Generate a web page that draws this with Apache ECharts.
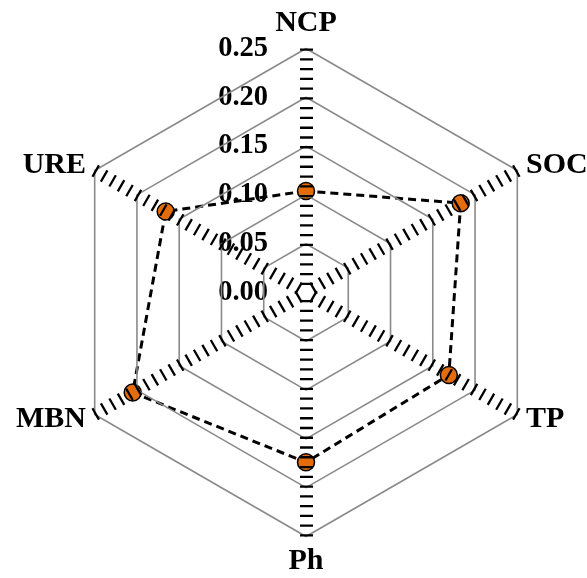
<!DOCTYPE html>
<html>
<head>
<meta charset="utf-8">
<script src="https://cdn.jsdelivr.net/npm/echarts@6/dist/echarts.min.js"></script>
<style>
  html, body { margin: 0; padding: 0; background: #fff; }
  #chart { width: 587px; height: 578px; }
</style>
</head>
<body>
<div id="chart"></div>
<script>
// Indicators listed counter-clockwise from the top (ECharts radar order)
const indicatorNames = ['NCP', 'URE', 'MBN', 'Ph', 'TP', 'SOC'];
const indicatorValues = [0.104, 0.166, 0.205, 0.174, 0.169, 0.183];
const tickLabels = ['0.00', '0.05', '0.10', '0.15', '0.20', '0.25'];
const axisMax = 0.25;
const axisStep = 0.05;

const cx = 306, cy = 292.5, R = 244;
const stripeCount = 25;               // short bars along each spoke
const period = R / stripeCount;
const bar = 2.3;

const font = 'Liberation Serif, Times New Roman, serif';

const chart = echarts.init(document.getElementById('chart'));
chart.setOption({
  animation: false,
  backgroundColor: '#fff',
  grid: { left: cx, top: cy - R, height: R, width: 10, show: false },
  xAxis: { type: 'value', show: false },
  yAxis: {
    type: 'value',
    min: 0,
    max: axisMax,
    interval: axisStep,
    position: 'left',
    z: 1,
    axisLine: { show: false },
    axisTick: { show: false },
    splitLine: { show: false },
    axisLabel: {
      margin: 38,
      color: '#000',
      fontSize: 28.5,
      fontWeight: 'bold',
      fontFamily: font,
      formatter: v => tickLabels[Math.round(v / axisStep)]
    }
  },
  radar: {
    z: 3,
    center: [cx, cy],
    radius: R,
    startAngle: 90,
    shape: 'polygon',
    splitNumber: 5,
    nameGap: 10,
    indicator: indicatorNames.map(n => ({ name: n, min: 0, max: axisMax })),
    axisName: {
      color: '#000',
      fontSize: 30,
      fontWeight: 'bold',
      fontFamily: font
    },
    splitArea: { show: false },
    splitLine: { lineStyle: { color: '#8a8a8a', width: 1.6 } },
    axisLine: {
      lineStyle: {
        color: '#000',
        width: 13,
        cap: 'butt',
        type: [bar, period - bar],
        dashOffset: bar
      }
    }
  },
  series: [{
    type: 'radar',
    z: 2,
    symbol: 'circle',
    symbolSize: 17,
    itemStyle: { color: '#E46C0A', borderColor: '#000', borderWidth: 1.5 },
    lineStyle: { color: '#000', width: 3, type: [8, 5] },
    data: [{ value: indicatorValues }]
  }]
});
</script>
</body>
</html>
